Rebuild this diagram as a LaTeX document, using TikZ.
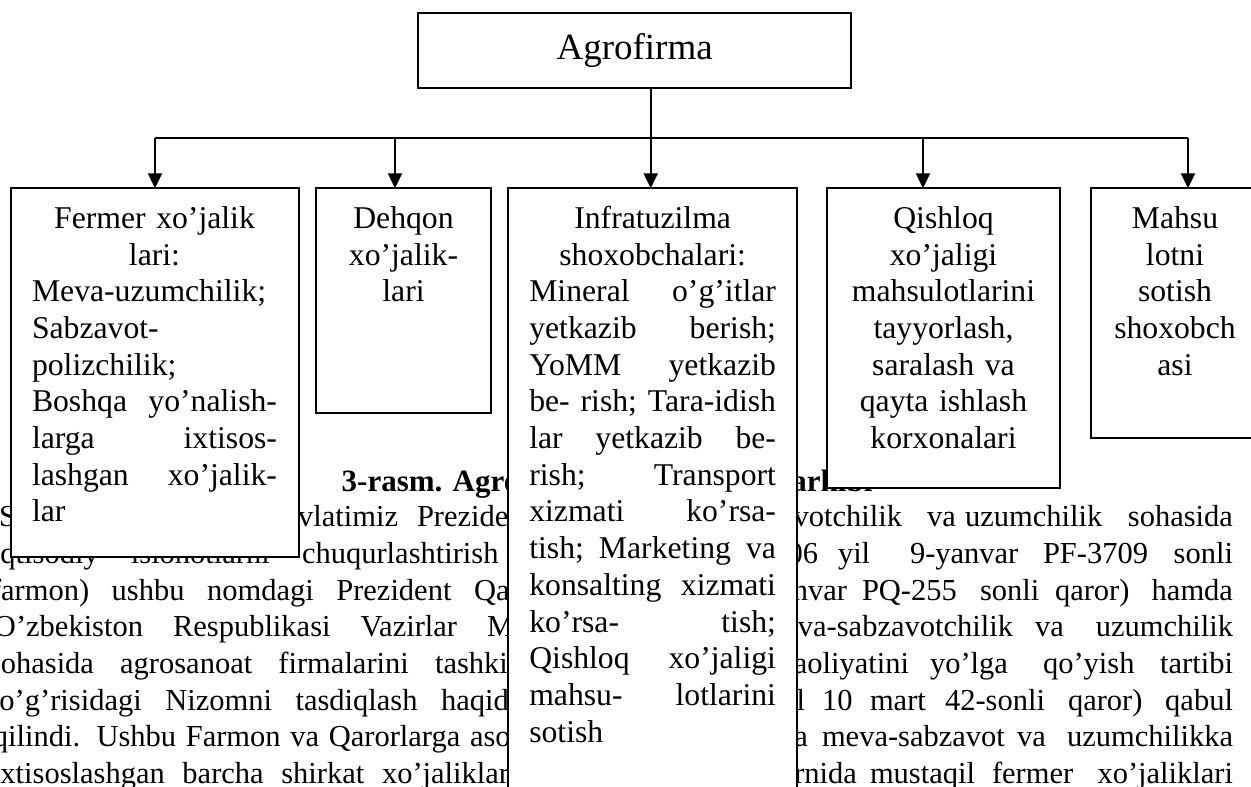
\documentclass[tikz,border=0pt]{standalone}
\usepackage{fontspec}
\setmainfont{Liberation Serif}
\usetikzlibrary{arrows.meta}
\newcommand\bgL[4]{\node[bg,anchor=base west] (#1) at (#2,#3) {#4};}
\newcommand\bgR[4]{\node[bg,anchor=base east] (#1) at (#2,#3) {#4};}
% justified left part of a page line: name, start x, baseline y, start x of last word, words, last word
\newcommand\jline[6]{\node[bg,anchor=base west] (#1) at (#2,#3) {\makebox[\dimexpr #4pt-#2pt\relax][s]{#5\ }#6};}
\begin{document}
\begin{tikzpicture}[x=1pt,y=-1pt,
 bx/.style={draw, line width=2pt, fill=white, inner sep=0pt, outer sep=0pt, anchor=north west},
 bt/.style={inner sep=0pt, outer sep=0pt, align=center, font=\fontsize{31.7}{36.7}\selectfont},
 bg/.style={inner sep=0pt, outer sep=0pt, font=\fontsize{30.5}{36.7}\selectfont},
 arr/.style={line width=2pt, -{Triangle[width=14pt,length=15pt]}},
 cn/.style={line width=2pt}]
\useasboundingbox[fill=white] (0,0) rectangle (1251,787);

% ---- background page text ----
\node[bg, font=\bfseries\fontsize{31}{36}\selectfont, anchor=base west] (cap) at (341.7,491) {3-rasm. Agrofirmaning tashkiliy tarkibi};
% line 1
\bgL{l1a}{-1}{526.7}{Shu}
\bgR{l1b}{398}{526.7}{davlatimiz}
\bgL{l1c}{417}{526.7}{Prezidentining}
\bgR{l1d}{902}{526.7}{meva-sabzavotchilik}
\bgL{l1e}{927}{526.7}{va}
\bgL{l1f}{965}{526.7}{uzumchilik}
\bgR{l1g}{1233}{526.7}{sohasida}
% line 2
\jline{l2a}{-8}{563.3}{302}{iqtisodiy islohotlarni}{chuqurlashtirish}
\bgR{l2d}{818}{563.3}{2006}
\bgL{l2e}{838}{563.3}{yil}
\bgL{l2f}{910}{563.3}{9-yanvar}
\bgL{l2g}{1043}{563.3}{PF-3709}
\bgR{l2h}{1233}{563.3}{sonli}
% line 3
\jline{l3a}{-9}{600}{474}{farmon) ushbu nomdagi Prezident}{Qarori}
\bgR{l3f}{847}{600}{yanvar}
\bgL{l3g}{862}{600}{PQ-255}
\bgL{l3h}{980}{600}{sonli}
\bgL{l3i}{1055}{600}{qaror)}
\bgR{l3j}{1233}{600}{hamda}
% line 4
\jline{l4a}{-6}{636.7}{487}{O’zbekiston Respublikasi Vazirlar}{Mahkamasining}
\bgR{l4e}{1013}{636.7}{meva-sabzavotchilik}
\bgL{l4f}{1035}{636.7}{va}
\bgR{l4g}{1233}{636.7}{uzumchilik}
% line 5
\jline{l5a}{-11}{673.3}{435}{sohasida agrosanoat firmalarini}{tashkil}
\bgR{l5e}{909}{673.3}{faoliyatini}
\bgL{l5f}{930}{673.3}{yo’lga}
\bgL{l5g}{1043}{673.3}{qo’yish}
\bgR{l5h}{1233}{673.3}{tartibi}
% line 6
\jline{l6a}{-9}{710}{441}{to’g’risidagi Nizomni tasdiqlash}{haqida}
\bgR{l6e}{805}{710}{yil}
\bgL{l6f}{822}{710}{10}
\bgL{l6g}{870}{710}{mart}
\bgL{l6h}{945}{710}{42-sonli}
\bgL{l6i}{1068}{710}{qaror)}
\bgR{l6j}{1233}{710}{qabul}
% line 7
\jline{l7a}{-7}{746.7}{470}{qilindi. Ushbu Farmon va Qarorlarga}{asosan}
\bgR{l7g}{808}{746.7}{respublikada}
\bgL{l7h}{822}{746.7}{meva-sabzavot}
\bgL{l7i}{1017}{746.7}{va}
\bgR{l7j}{1233}{746.7}{uzumchilikka}
% line 8
\jline{l8a}{-8}{783.3}{382}{ixtisoslashgan barcha shirkat}{xo’jaliklari}
\bgR{l8e}{857}{783.3}{o’rnida}
\bgL{l8f}{870}{783.3}{mustaqil}
\bgL{l8g}{992}{783.3}{fermer}
\bgR{l8h}{1233}{783.3}{xo’jaliklari}

% ---- diagram boxes ----
\node[bx, minimum width=432.7pt, minimum height=75pt, font=\fontsize{37}{40}\selectfont] (top) at (418.3,13.3) {Agrofirma};
\node[bx, minimum width=288pt, minimum height=369pt] (b1) at (11,188.3) {};
\node[bx, minimum width=175pt, minimum height=224.7pt] (b2) at (316,188.3) {};
\node[bx, minimum width=288.4pt, minimum height=620pt] (b3) at (508.3,188.3) {};
\node[bx, minimum width=233.3pt, minimum height=299.4pt] (b4) at (826.7,188.3) {};
\node[bx, minimum width=168pt, minimum height=250pt] (b5) at (1091,188.3) {};

\node[bt, text width=245pt, anchor=base west] (t1) at (32,228.3) {Fermer xo’jalik\\ lari:\\
Meva-uzumchilik;\hfill\null\\ Sabzavot-\hfill\null\\ polizchilik;\hfill\null\\
Boshqa\hfill yo’nalish-\\ larga\hfill ixtisos-\\ lashgan\hfill xo’jalik-\\ lar\hfill\null};
\node[bt, text width=160pt, anchor=base] (t2) at (403.5,228.3) {Dehqon\\ xo’jalik-\\ lari};
\node[bt, text width=246.7pt, anchor=base west] (t3) at (529.3,228.3) {Infratuzilma\\ shoxobchalari:\\
Mineral\hfill o’g’itlar\\ yetkazib\hfill berish;\\ YoMM\hfill yetkazib\\
be-\hfill rish;\hfill Tara-idish\\ lar\hfill yetkazib\hfill be-\\ rish;\hfill Transport\\
xizmati\hfill ko’rsa-\\ tish;\hfill Marketing\hfill va\\ konsalting\hfill xizmati\\
ko’rsa-\hfill tish;\\ Qishloq\hfill xo’jaligi\\ mahsu-\hfill lotlarini\\ sotish\hfill\null};
\node[bt, text width=225pt, anchor=base] (t4) at (943.5,228.3) {Qishloq\\ xo’jaligi\\ mahsulotlarini\\ tayyorlash,\\ saralash va\\ qayta ishlash\\ korxonalari};
\node[bt, text width=150pt, anchor=base] (t5) at (1175,228.3) {Mahsu\\ lotni\\ sotish\\ shoxobch\\ asi};

% ---- connectors ----
\coordinate (hub) at (650.7,138.3);
\coordinate (a1) at (155,138.3);
\coordinate (a2) at (395,138.3);
\coordinate (a3) at (650.7,138.3);
\coordinate (a4) at (923,138.3);
\coordinate (a5) at (1188,138.3);
\draw[cn] (hub |- top.south) -- (hub);
\draw[cn] (a1) -- (a5);
\draw[arr] (a1) -- (a1 |- b1.north);
\draw[arr] (a2) -- (a2 |- b2.north);
\draw[arr] (a3) -- (a3 |- b3.north);
\draw[arr] (a4) -- (a4 |- b4.north);
\draw[arr] (a5) -- (a5 |- b5.north);
\end{tikzpicture}
\end{document}
